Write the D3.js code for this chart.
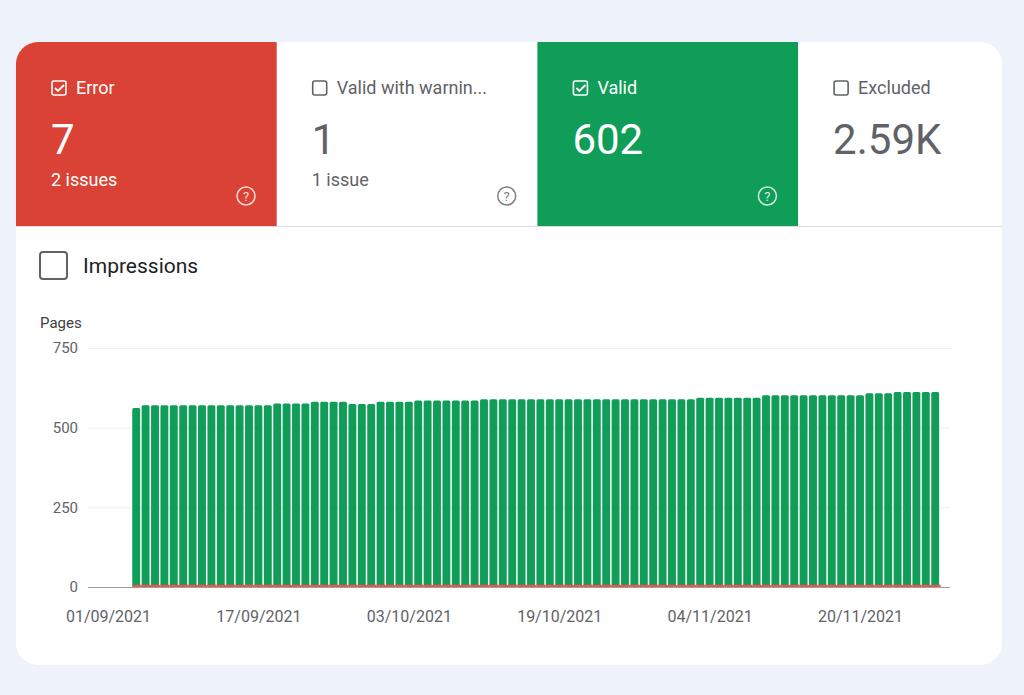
<!DOCTYPE html>
<html>
<head>
<meta charset="utf-8">
<script src="https://cdn.jsdelivr.net/npm/d3@7"></script>
<style>
  body { margin: 0; background: #eef2fa; font-family: Roboto, "Noto Sans", sans-serif; }
</style>
</head>
<body>
<div id="chart"></div>
<script>
// Daily page totals (valid + error)
var totalValues = [562,
  570,570,570,570,570,570,570,570,570,570,570,570,570,570,
  576,576,576,576,
  581,581,581,581,
  574,574,574,
  581,581,581,581,
  585,585,585,585,585,585,585,
  589,589,589,589,
  589,589,589,589,589,589,589,589,589,589,589,589,589,589,589,589,589,589,589,
  594,594,594,594,594,594,594,
  602,602,602,602,602,602,602,602,602,602,602,
  608,608,608,
  612,612,612,612,612];
var errorValue = 7;
var startDate = new Date(2021, 8, 4);
var tickDates = ['01/09/2021', '17/09/2021', '03/10/2021', '19/10/2021', '04/11/2021', '20/11/2021'];
var yTicks = [0, 250, 500, 750];

var tiles = [
  { label: 'Error', value: '7', sub: '2 issues', bg: '#d94235', fg: '#fff', checked: true, help: true },
  { label: 'Valid with warnin...', value: '1', sub: '1 issue', bg: '#fff', fg: '#5f6368', checked: false, help: true },
  { label: 'Valid', value: '602', sub: '', bg: '#0f9d58', fg: '#fff', checked: true, help: true },
  { label: 'Excluded', value: '2.59K', sub: '', bg: '#fff', fg: '#5f6368', checked: false, help: false }
];

var parse = d3.timeParse('%d/%m/%Y');
var data = totalValues.map((v, i) => ({ date: d3.timeDay.offset(startDate, i), total: v, error: errorValue }));

var svg = d3.select('#chart').append('svg').attr('width', 1024).attr('height', 695);

svg.append('rect').attr('x', 16).attr('y', 42).attr('width', 986).attr('height', 623)
  .attr('rx', 22).attr('fill', '#fff');

// Tiles
svg.append('clipPath').attr('id', 'card')
  .append('rect').attr('x', 16).attr('y', 42).attr('width', 986).attr('height', 623).attr('rx', 22);

var tileG = svg.append('g').attr('clip-path', 'url(#card)');
tiles.forEach((t, i) => {
  var x = 16 + i * 260.7;
  var g = tileG.append('g').attr('transform', 'translate(' + x + ',42)');
  g.append('rect').attr('width', i === 3 ? 250 : 261).attr('height', 184).attr('fill', t.bg);
  g.append('rect').attr('x', 36).attr('y', 39).attr('width', 14).attr('height', 14).attr('rx', 2)
    .attr('fill', 'none').attr('stroke', t.fg).attr('stroke-width', 1.6);
  if (t.checked) {
    g.append('path').attr('d', 'M39,46 l3,3 l6,-6').attr('fill', 'none').attr('stroke', t.fg).attr('stroke-width', 1.8);
  }
  g.append('text').attr('x', 60).attr('y', 52).attr('fill', t.fg).style('font-size', '18px').text(t.label);
  g.append('text').attr('x', 35).attr('y', 112).attr('fill', t.fg).style('font-size', '42px').text(t.value);
  if (t.sub) g.append('text').attr('x', 35).attr('y', 144).attr('fill', t.fg).style('font-size', '18px').text(t.sub);
  if (t.help) {
    g.append('circle').attr('cx', 230).attr('cy', 154).attr('r', 9).attr('fill', 'none')
      .attr('stroke', t.fg).attr('stroke-width', 1.5).attr('opacity', 0.8);
    g.append('text').attr('x', 230).attr('y', 159).attr('text-anchor', 'middle').attr('fill', t.fg)
      .style('font-size', '13px').attr('opacity', 0.8).text('?');
  }
});
svg.append('line').attr('x1', 16).attr('x2', 1002).attr('y1', 226.5).attr('y2', 226.5).attr('stroke', '#dadce0');

// Impressions checkbox
svg.append('rect').attr('x', 40).attr('y', 252).attr('width', 27).attr('height', 27).attr('rx', 3)
  .attr('fill', 'none').attr('stroke', '#5f6368').attr('stroke-width', 2);
svg.append('text').attr('x', 83).attr('y', 273).attr('fill', '#202124').style('font-size', '21px').text('Impressions');

// Chart
var x = d3.scaleTime()
  .domain([parse('01/09/2021'), d3.timeDay.offset(parse('01/09/2021'), 80)])
  .range([108, 860]);
var y = d3.scaleLinear().domain([0, 750]).range([587, 348]);
var bw = 7.9;

svg.append('text').attr('x', 40).attr('y', 328).attr('fill', '#3c4043').style('font-size', '15px').text('Pages');

var yAxis = svg.append('g').attr('transform', 'translate(88,0)')
  .call(d3.axisLeft(y).tickValues(yTicks).tickSize(-862).tickPadding(10));
yAxis.select('.domain').remove();
yAxis.selectAll('line').attr('stroke', d => d === 0 ? '#9aa0a6' : '#eeeeee');
yAxis.selectAll('text').attr('fill', '#5f6368').style('font-size', '15px').attr('font-family', 'Roboto');

svg.append('g').selectAll('rect.valid').data(data).enter().append('rect')
  .attr('class', 'valid')
  .attr('x', d => x(d.date) - bw / 2)
  .attr('y', d => y(d.total))
  .attr('width', bw)
  .attr('height', d => y(0) - y(d.total))
  .attr('rx', 1.5)
  .attr('fill', '#0f9d58');

svg.append('g').selectAll('rect.error').data(data).enter().append('rect')
  .attr('class', 'error')
  .attr('x', d => x(d.date) - bw / 2)
  .attr('y', d => y(d.error))
  .attr('width', bw + 1.5)
  .attr('height', d => y(0) - y(d.error))
  .attr('fill', '#e8574a');

var xAxis = svg.append('g').attr('transform', 'translate(0,603)')
  .call(d3.axisBottom(x).tickValues(tickDates.map(parse)).tickFormat(d3.timeFormat('%d/%m/%Y')).tickSize(0).tickPadding(8));
xAxis.select('.domain').remove();
xAxis.selectAll('text').attr('fill', '#5f6368').style('font-size', '16px').attr('font-family', 'Roboto');
</script>
</body>
</html>
